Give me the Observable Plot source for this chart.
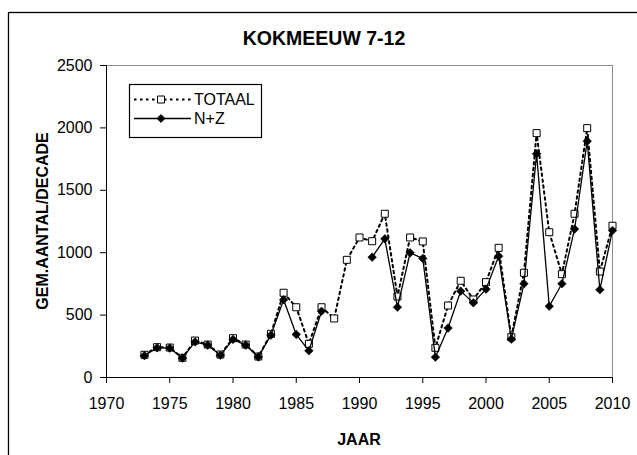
<!DOCTYPE html>
<html>
<head>
<meta charset="utf-8">
<script src="https://cdn.jsdelivr.net/npm/d3@7"></script>
<script src="https://cdn.jsdelivr.net/npm/@observablehq/plot@0.6"></script>
<style>
  html, body { margin: 0; padding: 0; background: white; }
  #wrap { position: relative; width: 637px; height: 455px; overflow: hidden; background: white; }
  #chart, #overlay { position: absolute; left: 0; top: 0; }
</style>
</head>
<body>
<div id="wrap">
  <div id="chart"></div>
  <svg id="overlay" width="637" height="455"></svg>
</div>
<script>
const title = "KOKMEEUW 7-12";
const xLabel = "JAAR";
const yLabel = "GEM.AANTAL/DECADE";
const seriesNames = ["TOTAAL", "N+Z"];

const years = [1973, 1974, 1975, 1976, 1977, 1978, 1979, 1980, 1981, 1982,
               1983, 1984, 1985, 1986, 1987, 1988, 1989, 1990, 1991, 1992,
               1993, 1994, 1995, 1996, 1997, 1998, 1999, 2000, 2001, 2002,
               2003, 2004, 2005, 2006, 2007, 2008, 2009, 2010];
const totaal = [182, 243, 240, 158, 296, 264, 184, 315, 264, 168,
                350, 679, 563, 270, 563, 473, 943, 1122, 1092, 1312,
                649, 1122, 1090, 238, 577, 775, 625, 764, 1039, 323,
                839, 1958, 1164, 828, 1312, 1998, 849, 1216];
const nz = [175, 238, 236, 155, 285, 260, 178, 305, 260, 165,
            340, 623, 345, 214, 531, null, null, null, 964, 1111,
            563, 999, 954, 163, 396, 692, 598, 708, 972, 307,
            751, 1792, 571, 751, 1189, 1894, 703, 1178];
const xTicks = [1970, 1975, 1980, 1985, 1990, 1995, 2000, 2005, 2010];
const yTicks = [0, 500, 1000, 1500, 2000, 2500];

const rows = years.map((year, i) => ({year, totaal: totaal[i], nz: nz[i]}));
const font = "'Liberation Sans', Arial, sans-serif";

const chart = Plot.plot({
  width: 637,
  height: 455,
  marginLeft: 106,
  marginRight: 25,
  marginTop: 65,
  marginBottom: 78,
  style: {fontFamily: font, fontSize: "16px", color: "black", background: "white", overflow: "visible"},
  x: {domain: [xTicks[0], xTicks[xTicks.length - 1]], axis: null},
  y: {domain: [yTicks[0], yTicks[yTicks.length - 1]], axis: null},
  marks: [
    Plot.ruleY([yTicks[yTicks.length - 1]], {stroke: "#8c8c8c"}),
    Plot.ruleX([xTicks[xTicks.length - 1]], {stroke: "#8c8c8c"}),
    Plot.axisY({ticks: yTicks, tickSize: 6, tickPadding: 8, tickFormat: d => String(d), label: null}),
    Plot.axisX({ticks: xTicks, tickSize: 6, tickPadding: 14, tickFormat: d => String(d), label: null}),
    Plot.ruleX([xTicks[0]], {stroke: "black"}),
    Plot.ruleY([yTicks[0]], {stroke: "black"}),
    Plot.line(rows, {x: "year", y: "totaal", stroke: "black", strokeWidth: 2, strokeDasharray: "2.5,3.5"}),
    Plot.dot(rows, {x: "year", y: "totaal", symbol: "square", r: 3.95, fill: "white", stroke: "black", strokeWidth: 1}),
    Plot.line(rows, {x: "year", y: "nz", stroke: "black", strokeWidth: 1.3}),
    Plot.dot(rows, {x: "year", y: "nz", symbol: "diamond2", r: 3.9, fill: "black", stroke: "black", strokeWidth: 0.5})
  ]
});
document.getElementById("chart").appendChild(chart);

// Overlay: border, title, axis titles, legend
const ov = d3.select("#overlay").style("font-family", font);
ov.append("rect").attr("x", 8.5).attr("y", 12.5).attr("width", 660).attr("height", 480)
  .attr("fill", "none").attr("stroke", "black").attr("stroke-width", 1.3);
ov.append("text").attr("x", 324).attr("y", 45).attr("text-anchor", "middle")
  .attr("font-weight", "bold").attr("font-size", 19.5).text(title);
ov.append("text").attr("x", 359).attr("y", 445).attr("text-anchor", "middle")
  .attr("font-weight", "bold").attr("font-size", 16).text(xLabel);
ov.append("text").attr("transform", "translate(48,221) rotate(-90)").attr("text-anchor", "middle")
  .attr("font-weight", "bold").attr("font-size", 16).text(yLabel);

const lg = ov.append("g");
lg.append("rect").attr("x", 129.5).attr("y", 84.5).attr("width", 132).attr("height", 53)
  .attr("fill", "white").attr("stroke", "black").attr("stroke-width", 1.2);
const entries = [
  {name: seriesNames[0], dash: "2.5,3.5", sw: 2, sym: d3.symbolSquare, size: 49, fill: "white"},
  {name: seriesNames[1], dash: null, sw: 1.3, sym: d3.symbolDiamond2, size: 39, fill: "black"}
];
entries.forEach((e, i) => {
  const cy = 99.5 + i * 19;
  lg.append("line").attr("x1", 134).attr("x2", 191).attr("y1", cy).attr("y2", cy)
    .attr("stroke", "black").attr("stroke-width", e.sw).attr("stroke-dasharray", e.dash);
  lg.append("path").attr("transform", `translate(161,${cy})`)
    .attr("d", d3.symbol(e.sym, e.size)()).attr("fill", e.fill).attr("stroke", "black").attr("stroke-width", 1);
  lg.append("text").attr("x", 194).attr("y", cy + 5.8).attr("font-size", 16).text(e.name);
});
</script>
</body>
</html>
